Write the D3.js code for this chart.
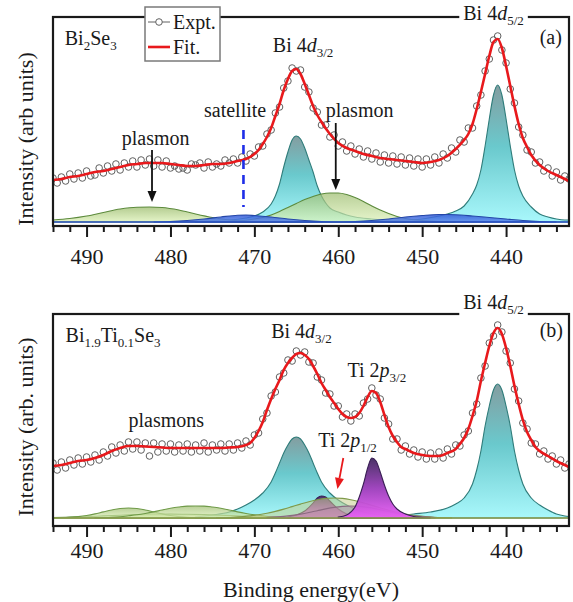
<!DOCTYPE html>
<html>
<head>
<meta charset="utf-8">
<script src="https://cdn.jsdelivr.net/npm/d3@7"></script>
<style>
  body { margin: 0; background: #fff; }
</style>
</head>
<body>
<svg width="573" height="602"></svg>
<script>
// x axis ticks
const majorTicks = [490, 480, 470, 460, 450, 440];
const minorTicks = [494, 492, 488, 486, 484, 482, 478, 476, 474, 472, 468, 466, 464, 462,
                    458, 456, 454, 452, 448, 446, 444, 442, 438, 436, 434];

// measured points are on a 0.5 eV grid from 494 to 432.5 eV
const exptE = d3.range(494, 432.4, -0.5);

// ---- panel (a) Bi2Se3 ----
const aExpt = [48,43,49,45,52,47,53,48,55,50, 51,58,53,60,55,62,56,63,59,65,
  59,66,61,67,60,66,59,65,58,60, 57,58,56,62,61,63,58,64,59,62,
  60,66,63,67,63,69,65,72,70,79, 80,92,96,113,119,138,145,158,155,156,
  139,134,118,114,101,101,89,91,80,84, 75,80,72,77,69,75,67,73,64,71,
  63,70,62,69,61,68,60,67,59,67, 61,69,63,72,68,78,74,86,84,98,
  98,120,131,155,167,186,190,176,163,137, 123,99,91,76,74,63,64,55,58,50,
  54,46,50,47];
const aFit = [[494,46],[493,47],[492,49],[491,50],[490,52],[489,54],[488,55],[487,57],[486,59],
  [485,61],[484,62],[483,63],[482,63],[481,63],[480,62],[479,61],[478,60],[477,60],[476,61],
  [475,62],[474,62],[473,63],[472,65],[471,67],[470,72],[469.5,76],[469,82],[468.5,89],[468,98],
  [467.5,110],[467,122],[466.5,136],[466,147],[465.5,155],[465,157],[464.5,152],[464,142],
  [463.5,131],[463,120],[462.5,111],[462,104],[461,92],[460,83],[459,78],[458,75],[457,72],
  [456,70],[455,68],[454,67],[453,66],[452,65],[451,64],[450,63],[449,64],[448,66],[447,70],
  [446,77],[445,86],[444.5,92],[444,102],[443.5,117],[443,134],[442.5,152],[442,170],
  [441.5,184],[441,187],[440.5,178],[440,160],[439.5,140],[439,120],[438.5,102],[438,88],
  [437.5,79],[437,71],[436,61],[435,55],[434,51],[433,47],[432.5,45]];
const aBase = 4;
const aBi52 = [[454,1],[452,2],[450,3],[448,6],[447,8],[446,11],[445,16],[444,28],[443.5,37],
  [443,52],[442.5,76],[442,103],[441.5,127],[441,137],[440.5,127],[440,103],[439.5,76],
  [439,52],[438.5,36],[438,26],[437,15],[436,8],[435,5],[434,3],[433,2],[432.5,2]];
const aBi32 = [[477,1],[475,1.5],[473,2],[471,4],[470,6],[469,10],[468,18],[467.5,26],[467,38],
  [466.5,55],[466,70],[465.5,82],[465,86],[464.5,83],[464,74],[463.5,62],[463,50],[462.5,36],
  [462,26],[461.5,19],[461,14],[460,10],[459,7],[458,5],[456,3],[454,1.5],[452,0.5]];
const aPlasmon1 = [[494,2],[492,3.5],[490,6],[488,9.5],[486,13],[484,14.8],[482.5,15],[481,14.5],
  [479,12],[477,8],[475,4.5],[473,2],[471,1],[469,0.3],[467,0]];
const aPlasmon2 = [[474,0.3],[472,1],[470,3],[469,4.5],[468,7],[467,10.5],[466,14.5],[465,18.5],
  [464,22.5],[463,25.5],[462,28],[461,29],[460,29],[459,27.5],[458,24.5],[457,20.5],[456,16],
  [455,12],[454,8.5],[453,5.5],[452,3.5],[450,1.5],[448,0.5],[446,0]];
const aSat1 = [[482,0],[480,0.5],[478,1.5],[476,3],[474,5],[472,6.8],[471,7],[470,6.5],[468,5],
  [466,3],[464,1.5],[462,0.5],[460,0]];
const aSat2 = [[460,0],[458,0.5],[456,1.5],[454,3],[452,5],[450,6.5],[448,7.5],[447,7.5],
  [446,7.3],[444,6],[442,4.5],[440,3],[438,1.5],[436,0.5],[434,0]];

// ---- panel (b) Bi1.9Ti0.1Se3 ----
const bExpt = [63,56,64,58,66,61,68,62,69,64, 71,66,74,70,79,73,81,75,84,77,
  84,76,83,70,83,74,82,75,82,74, 81,75,82,74,81,75,83,74,81,76,
  82,75,82,76,83,78,85,81,91,93, 107,113,130,134,149,153,166,165,175,171,
  174,164,163,149,146,133,132,120,120,109, 112,105,112,110,123,127,138,131,127,108,
  102,87,87,76,80,72,76,69,74,67, 73,67,74,68,77,72,81,80,91,95,
  113,122,148,160,183,190,201,194,175,163, 137,125,103,97,83,82,72,75,67,70,
  62,66,58,62];
const bFit = [[494,60],[493,61],[492,63],[491,65],[490,66],[489,68],[488,71],[487,75],[486,78],
  [485,80],[484,80],[483,79.5],[482,79],[481,78.5],[480,78],[478,78],[476,78],[474,78],
  [473,78.5],[472,79],[471,81],[470.5,83],[470,88],[469.5,95],[469,104],[468.5,116],[468,127],
  [467.5,137],[467,146],[466.5,156],[466,163],[465.5,168],[465,172],[464.5,173],[464,171],
  [463.5,167],[463,160],[462.5,152],[462,143],[461.5,136],[461,129],[460.5,123],[460,117],
  [459.5,112],[459,109],[458.5,108],[458,109],[457.5,113],[457,120],[456.5,129],[456,135],
  [455.5,133],[455,124],[454.5,111],[454,99],[453.5,90],[453,84],[452.5,79],[452,77],[451,73],
  [450,71],[449,70],[448,70],[447.5,71],[447,73],[446,77],[445.5,82],[445,88],[444.5,97],
  [444,110],[443.5,125],[443,145],[442.5,163],[442,180],[441.5,193],[441,198],[440.5,192],
  [440,178],[439.5,160],[439,140],[438.5,122],[438,106],[437.5,94],[437,86],[436.5,79],
  [436,75],[435,70],[434,65],[433,61],[432.5,59]];
const bBase = 8;
const bBi52 = [[454,1],[453,2],[451,4],[449,6],[447,10],[446,14],[445,20],[444,34],[443.5,48],
  [443,67],[442.5,92],[442,112],[441.5,128],[441,134],[440.5,128],[440,112],[439.5,92],
  [439,67],[438.5,48],[438,34],[437,20],[436,13],[435,8],[434,4],[433,2],[432.5,1.5]];
const bBi32 = [[477,1],[475,3],[473,6],[472,9],[471,13],[470,18],[469,25],[468,36],[467.5,45],
  [467,55],[466.5,65],[466,73],[465.5,79],[465,81],[464.5,79],[464,73],[463.5,65],[463,55],
  [462.5,45],[462,36],[461,25],[460,18],[459,13],[458,9],[457,6],[455,3],[453,1],[451,0]];
const bPlasmonA = [[494,0.1],[492,0.7],[491,1.4],[490,2.5],[489,4.1],[488,6.1],[487,8],[486,9.5],
  [485,10],[484,9.5],[483,8],[482,6.1],[481,4.1],[480,2.5],[479,1.4],[478,0.7],[476,0.1]];
const bPlasmonB = [[489,0.1],[487,0.7],[486,1.3],[485,2.2],[484,3.2],[483,4.5],[482,6.1],[481,8],
  [480,9.7],[479,11],[478,11.9],[477,12],[476,11.9],[475,11],[474,9.7],[473,8],[472,6.1],
  [471,4.5],[470,3.2],[469,2.2],[468,1.3],[467,0.7],[465,0.1]];
const bPlasmonC = [[494,0.5],[492,0.9],[490,1.4],[488,2.1],[486,2.8],[484,3.4],[482,3.7],[480,4],
  [478,3.7],[476,3.4],[474,2.8],[472,2.1],[470,1.4],[468,0.9],[466,0.5],[463,0.2]];
const bPlasmonD = [[474.5,0.2],[472.5,0.8],[470.5,2.1],[469.5,3.2],[468.5,4.7],[467.5,6.6],
  [466.5,8.9],[465.5,11.4],[464.5,13.9],[463.5,16.3],[462.5,18.3],[461.5,19.6],[460.5,20],
  [459.5,19.6],[458.5,18.3],[457.5,16.3],[456.5,13.9],[455.5,11.4],[454.5,8.9],[453.5,6.6],
  [452.5,4.7],[451.5,3.2],[450.5,2.1],[448.5,0.8],[446.5,0.2]];
const bMauve = [[468.5,0.5],[466.5,1.6],[465.5,2.6],[464.5,3.9],[463.5,5.5],[462.5,7.3],[461.5,9.1],
  [460.5,10.6],[459.5,11.6],[458.5,12],[457.5,11.6],[456.5,10.6],[455.5,9.1],[454.5,7.3],
  [453.5,5.5],[452.5,3.9],[451.5,2.6],[450.5,1.6],[448.5,0.5]];
const bTi12 = [[466,1],[465,3],[464,7],[463,15],[462.5,20],[462,22],[461.5,21],[461,17],[460,9],
  [459,4],[458,1.5],[457,0.5],[456,0]];
const bTi32 = [[460,1],[459,3],[458.5,6],[458,11],[457.5,21],[457,34],[456.5,50],[456,60],
  [455.5,57],[455,46],[454.5,33],[454,22],[453.5,14],[453,9],[452,4],[451,1.5],[450,0.5],[449,0]];

const SERIF = "'Liberation Serif', 'DejaVu Serif', serif";
const svg = d3.select('svg').style('font-family', SERIF);
const x = d3.scaleLinear().domain([494, 432.5]).range([53, 569]);

function txt(sel) {
  return sel.append('text').style('font-family', SERIF).attr('fill', '#1a1a1a');
}

// gradients
const defs = svg.append('defs');
function grad(id, stops) {
  const lg = defs.append('linearGradient').attr('id', id)
    .attr('x1', 0).attr('y1', 0).attr('x2', 0).attr('y2', 1);
  stops.forEach(s => lg.append('stop').attr('offset', s[0]).attr('stop-color', s[1]));
}
grad('cyan', [[0, '#7d989b'], [0.45, '#62c6ca'], [1, '#a4f7fb']]);
grad('green', [[0, '#9bbb6c'], [1, '#dcf1b6']]);
grad('purple', [[0, '#40285e'], [0.5, '#9a3cba'], [1, '#ea5ef6']]);
grad('blue', [[0, '#3158d6'], [1, '#5a86ea']]);

function label(g, px, py, parts, size) {
  const t = txt(g).attr('x', px).attr('y', py).style('font-size', size + 'px');
  let sub = false;
  parts.forEach(p => {
    const ts = t.append('tspan').text(p.t);
    if (p.it) ts.style('font-style', 'italic');
    if (p.sub && !sub) ts.attr('dy', 5);
    if (!p.sub && sub) ts.attr('dy', -5);
    if (p.sub) ts.style('font-size', '13px');
    sub = !!p.sub;
  });
  return t;
}

function arrow(g, x1, y1, x2, y2, color) {
  const ang = Math.atan2(y2 - y1, x2 - x1);
  const L = 11, W = 4.5;
  const bx = x2 - L * Math.cos(ang), by = y2 - L * Math.sin(ang);
  g.append('line').attr('x1', x1).attr('y1', y1).attr('x2', bx).attr('y2', by)
    .attr('stroke', color).attr('stroke-width', 1.8);
  g.append('path')
    .attr('d', `M${x2},${y2}L${bx - W * Math.sin(ang)},${by + W * Math.cos(ang)}L${bx + W * Math.sin(ang)},${by - W * Math.cos(ang)}Z`)
    .attr('fill', color);
}

function panel(o) {
  const y = d3.scaleLinear().domain([0, o.ymax]).range([o.bottom, o.top]);
  const g = svg.append('g');
  const clipId = 'clip' + o.name;
  defs.append('clipPath').attr('id', clipId).append('rect')
    .attr('x', x.range()[0]).attr('y', o.top).attr('width', x.range()[1] - x.range()[0])
    .attr('height', o.bottom - o.top);
  const plot = g.append('g').attr('clip-path', `url(#${clipId})`);

  o.comps.forEach(c => {
    const area = d3.area().curve(d3.curveMonotoneX)
      .x(d => x(d[0])).y0(y(o.base)).y1(d => y(o.base + d[1]));
    plot.append('path').datum(c.data).attr('d', area)
      .attr('fill', c.fill).attr('fill-opacity', c.op)
      .attr('stroke', c.stroke).attr('stroke-width', 1.1);
  });
  plot.append('line').attr('x1', x(494)).attr('x2', x(432.5))
    .attr('y1', y(o.base)).attr('y2', y(o.base))
    .attr('stroke', o.baseColor).attr('stroke-width', 1.6);

  plot.selectAll('circle.expt').data(o.expt).enter().append('circle')
    .attr('class', 'expt')
    .attr('cx', (d, i) => x(exptE[i])).attr('cy', d => y(d)).attr('r', 3.3)
    .attr('fill', 'none').attr('stroke', '#606060').attr('stroke-width', 1);

  const line = d3.line().curve(d3.curveMonotoneX).x(d => x(d[0])).y(d => y(d[1]));
  plot.append('path').datum(o.fit).attr('d', line)
    .attr('fill', 'none').attr('stroke', '#e8191c').attr('stroke-width', 2.6);

  // frame
  g.append('rect').attr('x', x.range()[0]).attr('y', o.top)
    .attr('width', x.range()[1] - x.range()[0]).attr('height', o.bottom - o.top)
    .attr('fill', 'none').attr('stroke', '#1a1a1a').attr('stroke-width', 2.2);

  const ax = g.append('g').attr('transform', `translate(0,${o.bottom})`)
    .call(d3.axisBottom(x).tickValues(majorTicks).tickSize(11).tickPadding(o.pad)
      .tickFormat(d3.format('d')));
  ax.attr('font-family', SERIF).attr('font-size', 22);
  ax.select('.domain').remove();
  ax.selectAll('line').attr('stroke', '#1a1a1a').attr('stroke-width', 2);
  ax.selectAll('text').style('font-family', SERIF).style('font-size', '22px').attr('fill', '#1a1a1a');
  const mx = g.append('g').attr('transform', `translate(0,${o.bottom})`)
    .call(d3.axisBottom(x).tickValues(minorTicks).tickSize(6).tickFormat(''));
  mx.select('.domain').remove();
  mx.selectAll('line').attr('stroke', '#1a1a1a').attr('stroke-width', 2);

  // y title
  txt(g).attr('transform', `translate(33,${o.ytitleY}) rotate(-90)`)
    .attr('text-anchor', 'middle').style('font-size', '22px').text(o.ytitle);

  // labels
  o.labels.forEach(l => {
    const t = label(g, x(l.e), y(l.v), l.parts, 20);
    if (l.bg) {
      const bb = t.node().getBBox();
      g.insert('rect', () => t.node()).attr('x', bb.x - 4).attr('y', bb.y)
        .attr('width', bb.width + 8).attr('height', bb.height).attr('fill', '#fff');
    }
  });
  return { g, y };
}

// ---- draw panel (a)
const pa = panel({
  name: 'a', top: 17, bottom: 226, ymax: 209, base: aBase, pad: 11, baseColor: '#2a52c4',
  expt: aExpt, fit: aFit, ytitle: 'Intensity (arb units)', ytitleY: 139,
  comps: [
    { data: aBi32, fill: 'url(#cyan)', op: 0.95, stroke: '#2e7c7a' },
    { data: aBi52, fill: 'url(#cyan)', op: 0.95, stroke: '#2e7c7a' },
    { data: aPlasmon1, fill: 'url(#green)', op: 0.75, stroke: '#5c8a3c' },
    { data: aPlasmon2, fill: 'url(#green)', op: 0.7, stroke: '#5c8a3c' },
    { data: aSat1, fill: 'url(#blue)', op: 0.85, stroke: '#2446a8' },
    { data: aSat2, fill: 'url(#blue)', op: 0.85, stroke: '#2446a8' }
  ],
  labels: [
    { e: 492.6, v: 181, parts: [{ t: 'Bi' }, { t: '2', sub: true }, { t: 'Se' }, { t: '3', sub: true }] },
    { e: 467.8, v: 174, parts: [{ t: 'Bi 4' }, { t: 'd', it: true }, { t: '3/2', sub: true }] },
    { e: 445.1, v: 206, bg: true, parts: [{ t: 'Bi 4' }, { t: 'd', it: true }, { t: '5/2', sub: true }] },
    { e: 436.0, v: 182, parts: [{ t: '(a)' }] },
    { e: 476.0, v: 109, parts: [{ t: 'satellite' }] },
    { e: 485.8, v: 81, parts: [{ t: 'plasmon' }] },
    { e: 461.5, v: 109, parts: [{ t: 'plasmon' }] }
  ]
});
// satellite marker and plasmon arrows
pa.g.append('line').attr('x1', x(471.3)).attr('x2', x(471.3)).attr('y1', pa.y(96)).attr('y2', pa.y(19))
  .attr('stroke', '#1f2ee8').attr('stroke-width', 2.6).attr('stroke-dasharray', '9,6');
arrow(pa.g, x(482.2), pa.y(76), x(482.2), pa.y(24), '#111');
arrow(pa.g, x(460.3), pa.y(103), x(460.3), pa.y(36), '#111');

// legend
const lg = svg.append('g');
lg.append('rect').attr('x', 145).attr('y', 7).attr('width', 75).attr('height', 54)
  .attr('fill', '#fff').attr('stroke', '#7a7a7a').attr('stroke-width', 1.5);
lg.append('line').attr('x1', 148).attr('x2', 170).attr('y1', 22).attr('y2', 22)
  .attr('stroke', '#606060').attr('stroke-width', 1);
lg.append('circle').attr('cx', 159).attr('cy', 22).attr('r', 3.3)
  .attr('fill', '#fff').attr('stroke', '#606060').attr('stroke-width', 1);
txt(lg).attr('x', 173).attr('y', 29).style('font-size', '20px').text('Expt.');
lg.append('line').attr('x1', 148).attr('x2', 170).attr('y1', 47).attr('y2', 47)
  .attr('stroke', '#e8191c').attr('stroke-width', 2.6);
txt(lg).attr('x', 173).attr('y', 54).style('font-size', '20px').text('Fit.');

// ---- draw panel (b)
const pb = panel({
  name: 'b', top: 314, bottom: 526, ymax: 212, base: bBase, pad: 5, baseColor: '#8c9c4c',
  expt: bExpt, fit: bFit, ytitle: 'Intensity (arb. units)', ytitleY: 427,
  comps: [
    { data: bBi32, fill: 'url(#cyan)', op: 0.95, stroke: '#2e7c7a' },
    { data: bBi52, fill: 'url(#cyan)', op: 0.95, stroke: '#2e7c7a' },
    { data: bPlasmonC, fill: 'url(#green)', op: 0.6, stroke: '#5c8a3c' },
    { data: bPlasmonA, fill: 'url(#green)', op: 0.7, stroke: '#6f9a48' },
    { data: bPlasmonB, fill: 'url(#green)', op: 0.7, stroke: '#6f9a48' },
    { data: bTi12, fill: 'url(#purple)', op: 0.95, stroke: '#3a1f55' },
    { data: bPlasmonD, fill: '#c6cf8e', op: 0.55, stroke: '#7f9a4a' },
    { data: bMauve, fill: '#b88aa8', op: 0.5, stroke: '#8a6a80' },
    { data: bTi32, fill: 'url(#purple)', op: 0.95, stroke: '#3a1f55' }
  ],
  labels: [
    { e: 492.5, v: 184, parts: [{ t: 'Bi' }, { t: '1.9', sub: true }, { t: 'Ti' }, { t: '0.1', sub: true }, { t: 'Se' }, { t: '3', sub: true }] },
    { e: 468.0, v: 188, parts: [{ t: 'Bi 4' }, { t: 'd', it: true }, { t: '3/2', sub: true }] },
    { e: 445.1, v: 217, bg: true, parts: [{ t: 'Bi 4' }, { t: 'd', it: true }, { t: '5/2', sub: true }] },
    { e: 436.0, v: 189, parts: [{ t: '(b)' }] },
    { e: 458.9, v: 149, parts: [{ t: 'Ti 2' }, { t: 'p', it: true }, { t: '3/2', sub: true }] },
    { e: 462.4, v: 79, parts: [{ t: 'Ti 2' }, { t: 'p', it: true }, { t: '1/2', sub: true }] },
    { e: 485.0, v: 99, parts: [{ t: 'plasmons' }] }
  ]
});
arrow(pb.g, x(459.4), pb.y(68), x(460.1), pb.y(37), '#e8191c');

// x title
txt(svg).attr('x', 311).attr('y', 597).attr('text-anchor', 'middle')
  .style('font-size', '22px').text('Binding energy(eV)');
</script>
</body>
</html>
